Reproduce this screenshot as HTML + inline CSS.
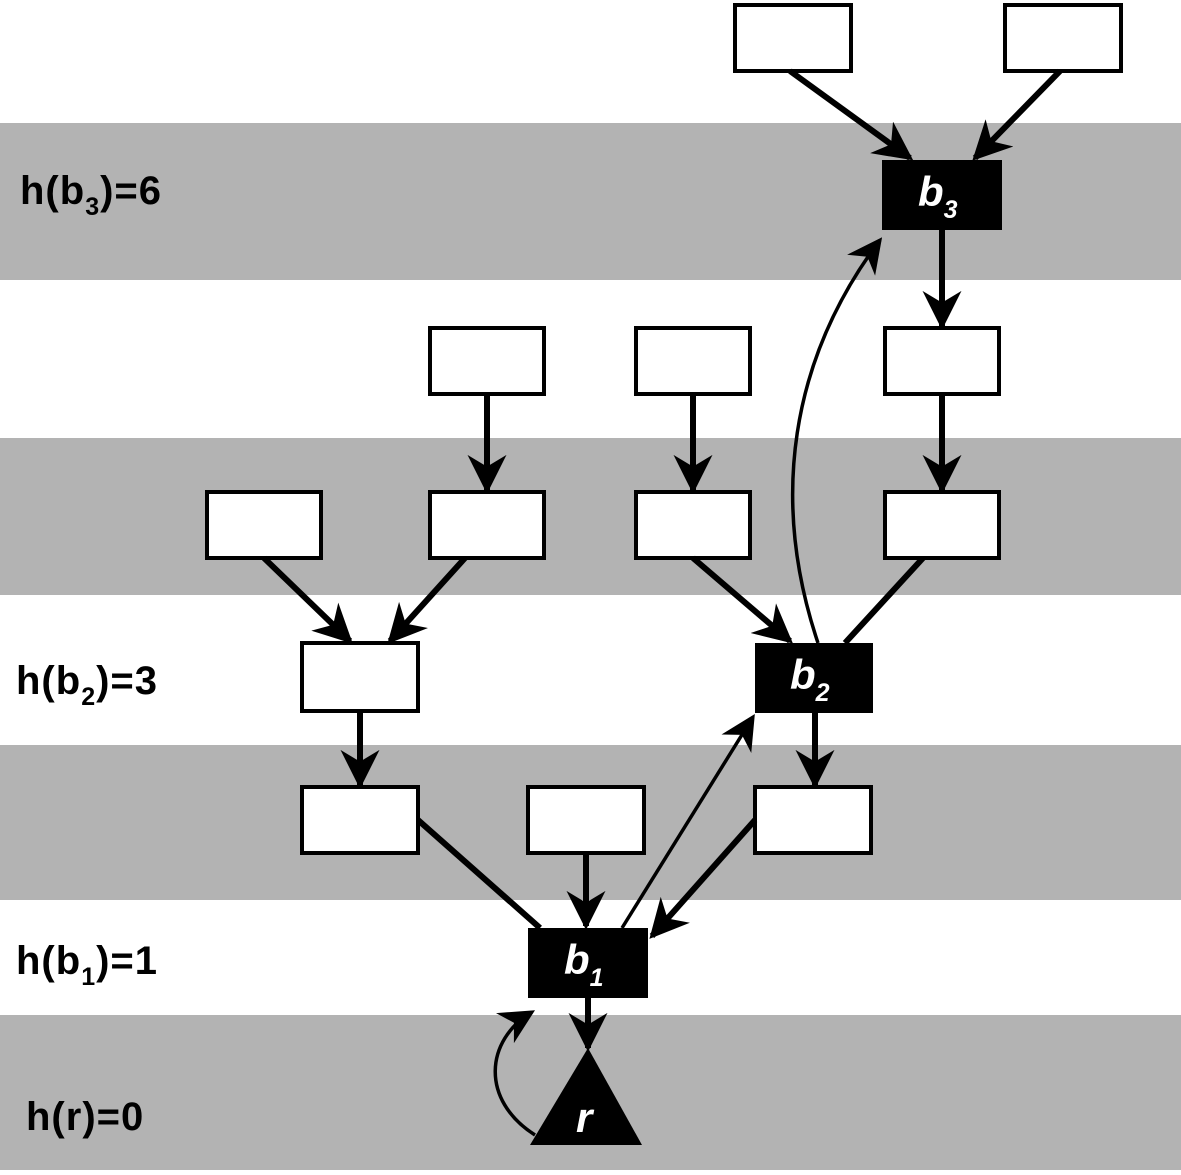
<!DOCTYPE html>
<html><head><style>
body{margin:0;background:#fff}
svg{display:block}
.l{font-family:"Liberation Sans",sans-serif;font-weight:bold;font-size:40px;fill:#000;letter-spacing:1px}
.w{font-family:"Liberation Sans",sans-serif;font-weight:bold;font-style:italic;font-size:42px;fill:#fff}
.s{font-size:25px}
</style></head><body>
<svg width="1181" height="1175" viewBox="0 0 1181 1175">
<defs>
<marker id="a" viewBox="0 0 10 10" refX="9" refY="5" markerWidth="6.5" markerHeight="6.5" orient="auto" markerUnits="strokeWidth"><path d="M0,0 L10,5 L0,10 L3,5 z" fill="#000"/></marker>
<marker id="b" viewBox="0 0 10 10" refX="9" refY="5" markerWidth="10" markerHeight="10" orient="auto" markerUnits="strokeWidth"><path d="M0,0 L10,5 L0,10 L3,5 z" fill="#000"/></marker>
</defs>
<rect x="0" y="123" width="1181" height="157" fill="#b3b3b3"/>
<rect x="0" y="438" width="1181" height="157" fill="#b3b3b3"/>
<rect x="0" y="745" width="1181" height="155" fill="#b3b3b3"/>
<rect x="0" y="1015" width="1181" height="155" fill="#b3b3b3"/>
<g fill="#fff" stroke="#000" stroke-width="4">
<rect x="735" y="5" width="116" height="66"/><rect x="1005" y="5" width="116" height="66"/>
<rect x="430" y="328" width="114" height="66"/><rect x="636" y="328" width="114" height="66"/><rect x="885" y="328" width="114" height="66"/>
<rect x="207" y="492" width="114" height="66"/><rect x="430" y="492" width="114" height="66"/><rect x="636" y="492" width="114" height="66"/><rect x="885" y="492" width="114" height="66"/>
<rect x="302" y="643" width="116" height="68"/>
<rect x="302" y="787" width="116" height="66"/><rect x="528" y="787" width="116" height="66"/><rect x="755" y="787" width="116" height="66"/>
</g>
<rect x="882" y="160" width="120" height="70" fill="#000"/>
<rect x="755" y="643" width="118" height="70" fill="#000"/>
<rect x="528" y="928" width="120" height="70" fill="#000"/>
<path d="M588,1048 L642,1145 L530,1145 z" fill="#000"/>
<g stroke="#000" stroke-width="6" fill="none">
<line x1="790" y1="71" x2="910" y2="158" marker-end="url(#a)"/>
<line x1="1060" y1="71" x2="975" y2="158" marker-end="url(#a)"/>
<line x1="942" y1="230" x2="942" y2="326" marker-end="url(#a)"/>
<line x1="942" y1="394" x2="942" y2="490" marker-end="url(#a)"/>
<line x1="487" y1="394" x2="487" y2="490" marker-end="url(#a)"/>
<line x1="693" y1="394" x2="693" y2="490" marker-end="url(#a)"/>
<line x1="264" y1="558" x2="350" y2="641" marker-end="url(#a)"/>
<line x1="465" y1="558" x2="390" y2="641" marker-end="url(#a)"/>
<line x1="693" y1="558" x2="790" y2="641" marker-end="url(#a)"/>
<line x1="923" y1="558" x2="845" y2="643"/>
<line x1="360" y1="711" x2="360" y2="785" marker-end="url(#a)"/>
<line x1="815" y1="713" x2="815" y2="785" marker-end="url(#a)"/>
<line x1="418" y1="820" x2="540" y2="928"/>
<line x1="586" y1="853" x2="586" y2="926" marker-end="url(#a)"/>
<line x1="755" y1="820" x2="652" y2="936" marker-end="url(#a)"/>
<line x1="588" y1="998" x2="588" y2="1048" marker-end="url(#a)"/>
</g>
<g stroke="#000" stroke-width="3.5" fill="none">
<path d="M818,643 C770,500 790,360 880,240" marker-end="url(#b)"/>
<line x1="622" y1="928" x2="753" y2="717" marker-end="url(#b)"/>
<path d="M535,1135 C480,1100 485,1040 532,1012" marker-end="url(#b)"/>
</g>
<text class="w" x="918" y="206">b<tspan class="s" dy="12">3</tspan></text>
<text class="w" x="790" y="689">b<tspan class="s" dy="12">2</tspan></text>
<text class="w" x="564" y="974">b<tspan class="s" dy="12">1</tspan></text>
<text class="w" x="576" y="1132">r</text>
<text class="l" x="20" y="204">h(b<tspan class="s" dy="11">3</tspan><tspan dy="-11">)=6</tspan></text>
<text class="l" x="16" y="694">h(b<tspan class="s" dy="11">2</tspan><tspan dy="-11">)=3</tspan></text>
<text class="l" x="16" y="974">h(b<tspan class="s" dy="11">1</tspan><tspan dy="-11">)=1</tspan></text>
<text class="l" x="26" y="1130">h(r)=0</text>
</svg>
</body></html>
